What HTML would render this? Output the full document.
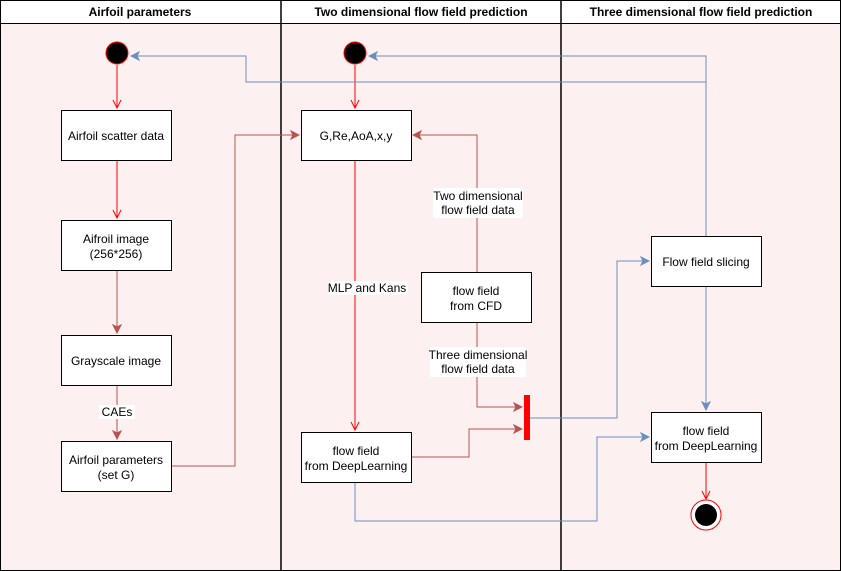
<!DOCTYPE html>
<html><head><style>body{margin:0;background:#fff}svg{display:block}text{font-family:"Liberation Sans",Arial,sans-serif;font-size:12px;fill:#000}</style></head><body>
<svg width="841" height="571" viewBox="0 0 841 571" xmlns="http://www.w3.org/2000/svg">
<defs>
<marker id="ro" markerWidth="10" markerHeight="10" refX="9" refY="5" orient="auto" markerUnits="userSpaceOnUse"><path d="M1,1 L9,5 L1,9" fill="none" stroke="#ff0000" stroke-width="1"/></marker>
<marker id="dr" markerWidth="10" markerHeight="10" refX="9" refY="5" orient="auto" markerUnits="userSpaceOnUse"><path d="M1,1 L9,5 L1,9 L3,5 Z" fill="#b85450" stroke="#b85450"/></marker>
<marker id="bl" markerWidth="10" markerHeight="10" refX="9" refY="5" orient="auto" markerUnits="userSpaceOnUse"><path d="M1,1 L9,5 L1,9 L3,5 Z" fill="#6c8ebf" stroke="#6c8ebf"/></marker>
</defs>
<rect x="0.5" y="0.5" width="840" height="570" fill="#fdf0f0" stroke="#000"/>
<rect x="0.5" y="0.5" width="840" height="23" fill="#fff" stroke="#000"/>
<line x1="281" y1="0" x2="281" y2="571" stroke="#000" stroke-width="1.5"/>
<line x1="561" y1="0" x2="561" y2="571" stroke="#000" stroke-width="1.5"/>
<text x="140" y="16" text-anchor="middle" font-weight="bold">Airfoil parameters</text>
<text x="421" y="16" text-anchor="middle" font-weight="bold">Two dimensional flow field prediction</text>
<text x="701" y="16" text-anchor="middle" font-weight="bold">Three dimensional flow field prediction</text>

<g fill="none" stroke-width="1">
<path d="M117,65 V108" stroke="#ff0000" marker-end="url(#ro)"/>
<path d="M117,160 V218" stroke="#ff0000" marker-end="url(#ro)"/>
<path d="M117,270 V333" stroke="#b85450" marker-end="url(#dr)"/>
<path d="M117,385 V439" stroke="#b85450" marker-end="url(#dr)"/>
<path d="M355,65 V108" stroke="#ff0000" marker-end="url(#ro)"/>
<path d="M355,160 V430" stroke="#ff0000" marker-end="url(#ro)"/>
<path d="M171,466 H235 V135 H299" stroke="#b85450" marker-end="url(#dr)"/>
<path d="M477,272 V135 H413" stroke="#b85450" marker-end="url(#dr)"/>
<path d="M477,322 V407 H522" stroke="#b85450" marker-end="url(#dr)"/>
<path d="M411,457 H469 V429 H522" stroke="#b85450" marker-end="url(#dr)"/>
<path d="M530,418 H617 V261 H649" stroke="#6c8ebf" marker-end="url(#bl)"/>
<path d="M706,236 V56 H369" stroke="#6c8ebf" marker-end="url(#bl)"/>
<path d="M706,82 H246 V56 H131" stroke="#6c8ebf" marker-end="url(#bl)"/>
<path d="M706,286 V410" stroke="#6c8ebf" marker-end="url(#bl)"/>
<path d="M355,482 V521 H597 V437 H649" stroke="#6c8ebf" marker-end="url(#bl)"/>
<path d="M706,462 V499" stroke="#ff0000" marker-end="url(#ro)"/>
</g>
<circle cx="117" cy="53" r="11" fill="#000" stroke="#ff0000"/>
<circle cx="355" cy="53" r="11" fill="#000" stroke="#ff0000"/>
<circle cx="706" cy="515" r="15" fill="#fff" stroke="#ff0000"/>
<circle cx="706" cy="515" r="11" fill="#000"/>
<rect x="524" y="395" width="6" height="45" fill="#ff0000"/>
<g fill="#fff" stroke="#000">
<rect x="61.5" y="110.5" width="110" height="50"/>
<rect x="61.5" y="220.5" width="110" height="50"/>
<rect x="61.5" y="335.5" width="110" height="50"/>
<rect x="61.5" y="441.5" width="110" height="50"/>
<rect x="301.5" y="110.5" width="110" height="50"/>
<rect x="301.5" y="432.5" width="110" height="50"/>
<rect x="421.5" y="272.5" width="110" height="50"/>
<rect x="651.5" y="236.5" width="110" height="50"/>
<rect x="651.5" y="412.5" width="110" height="50"/>
</g>
<g fill="#fff">
<rect x="99" y="405" width="36" height="14"/>
<rect x="433" y="188" width="90" height="30"/>
<rect x="328" y="281" width="80" height="14"/>
<rect x="430" y="347" width="96" height="30"/>
</g>
<g text-anchor="middle">
<text x="116" y="140">Airfoil scatter data</text>
<text x="116" y="243">Aifroil image</text><text x="116" y="258">(256*256)</text>
<text x="116" y="365">Grayscale image</text>
<text x="116" y="464">Airfoil parameters</text><text x="116" y="479">(set G)</text>
<text x="356" y="140">G,Re,AoA,x,y</text>
<text x="356" y="455">flow field</text><text x="356" y="470">from DeepLearning</text>
<text x="476" y="295">flow field</text><text x="476" y="310">from CFD</text>
<text x="706" y="266">Flow field slicing</text>
<text x="706" y="435">flow field</text><text x="706" y="450">from DeepLearning</text>
<g style="font-size:11px">
<text x="117" y="416">CAEs</text>
<text x="478" y="200">Two dimensional</text><text x="478" y="214">flow field data</text>
<text x="367" y="292">MLP and Kans</text>
<text x="478" y="359">Three dimensional</text><text x="478" y="373">flow field data</text>
</g>
</g>
</svg>
</body></html>
